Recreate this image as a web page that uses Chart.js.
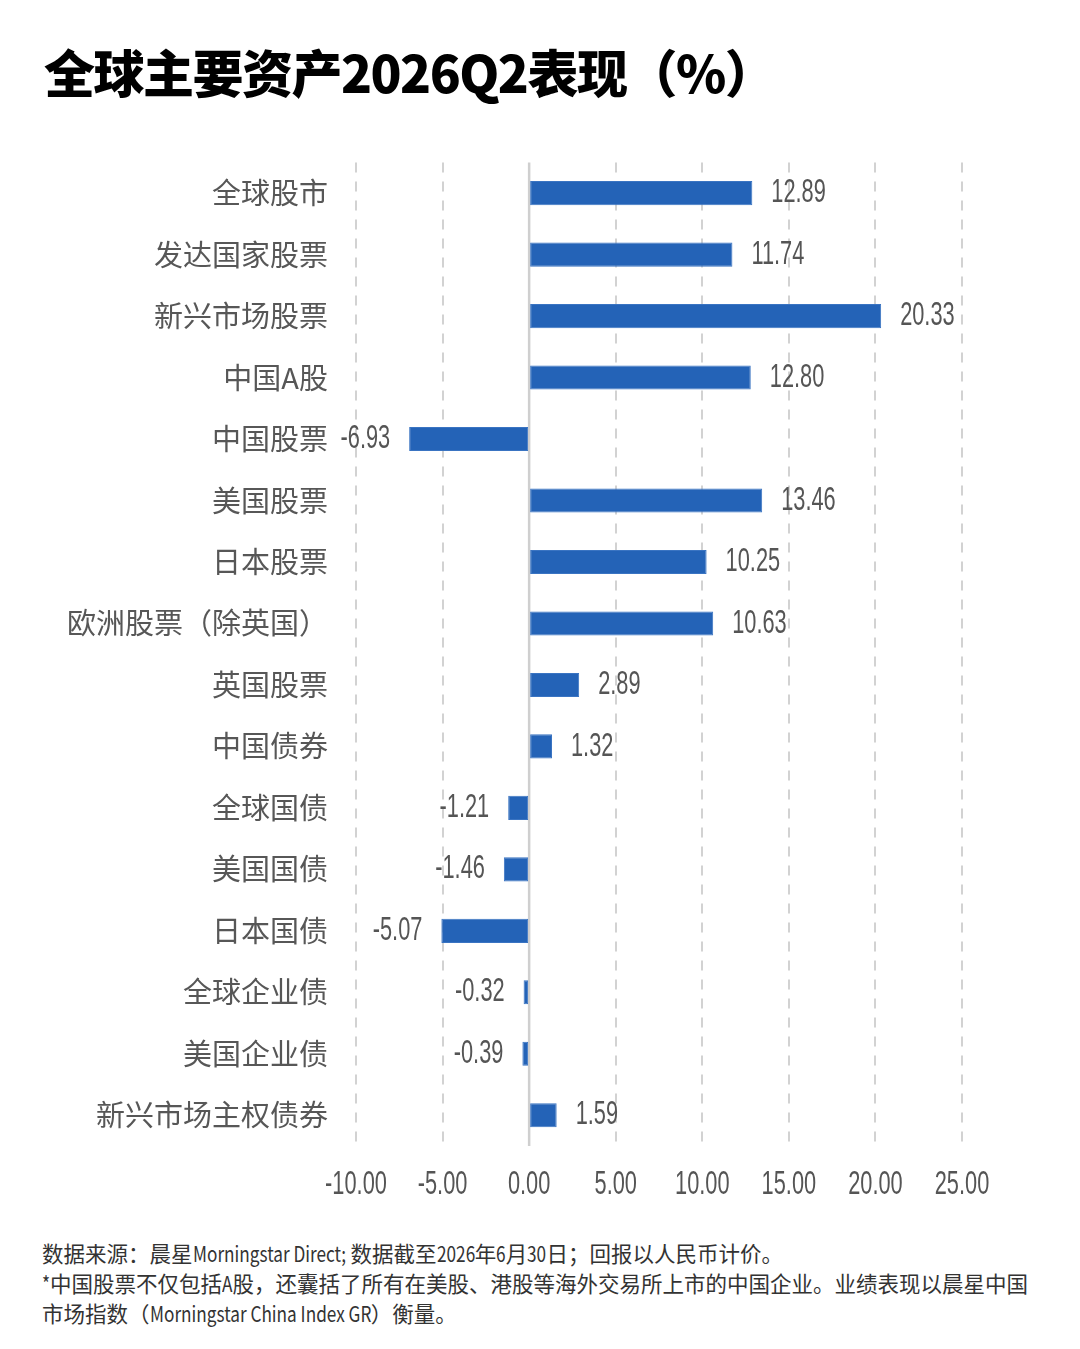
<!DOCTYPE html>
<html lang="zh-CN">
<head>
    <meta charset="UTF-8">
    <title>全球主要资产2026Q2表现（%）</title>
    <script src="https://cdn.jsdelivr.net/npm/chart.js"></script>
    <style>
        html, body {
            margin: 0;
            padding: 0;
            background: #ffffff;
        }
        body {
            width: 1080px;
            height: 1349px;
            position: relative;
            overflow: hidden;
            font-family: "Noto Sans CJK SC", "Noto Sans", sans-serif;
        }
        .title {
            position: absolute;
            left: 44px;
            top: 39px;
            font-size: 51px;
            line-height: 64px;
            font-weight: 900;
            color: #000;
            white-space: nowrap;
            letter-spacing: -1.5px;
        }
        .chart-box {
            position: absolute;
            left: 0;
            top: 117px;
            width: 1080px;
            height: 1103px;
        }
        .note {
            position: absolute;
            left: 42px;
            top: 1238px;
            font-size: 21.5px;
            color: #333;
            white-space: nowrap;
        }
        .note div {
            height: 30px;
            line-height: 30px;
        }
        .note .lat {
            display: inline-block;
            transform-origin: left center;
        }
    </style>
</head>
<body>
    <div class="title">全球主要资产2026Q2表现（%）</div>

    <div class="chart-box">
        <canvas id="chart"></canvas>
    </div>

    <div class="note">
        <div>数据来源：晨星<span class="lat">Morningstar Direct;</span> 数据截至<span class="lat">2026</span>年<span class="lat">6</span>月<span class="lat">30</span>日；回报以人民币计价。</div>
        <div><span class="lat">*</span>中国股票不仅包括<span class="lat">A</span>股，还囊括了所有在美股、港股等海外交易所上市的中国企业。业绩表现以晨星中国</div>
        <div>市场指数（<span class="lat">Morningstar China Index GR</span>）衡量。</div>
    </div>

    <script>
        var categories = [
            '全球股市', '发达国家股票', '新兴市场股票', '中国A股', '中国股票',
            '美国股票', '日本股票', '欧洲股票（除英国）', '英国股票', '中国债券',
            '全球国债', '美国国债', '日本国债', '全球企业债', '美国企业债',
            '新兴市场主权债券'
        ];
        var returns = [
            12.89, 11.74, 20.33, 12.80, -6.93,
            13.46, 10.25, 10.63, 2.89, 1.32,
            -1.21, -1.46, -5.07, -0.32, -0.39,
            1.59
        ];
        var xTicks = [-10, -5, 0, 5, 10, 15, 20, 25];

        // squeeze the latin bits of the footnote, like the narrow font in the original
        document.querySelectorAll('.note .lat').forEach(function (el) {
            var w = el.offsetWidth;
            el.style.transform = 'scaleX(0.8)';
            el.style.marginRight = (-0.2 * w) + 'px';
        });

        var numFont = '33px "Liberation Sans", Arial, sans-serif';
        var numSquash = 0.66;
        var numColor = '#555555';

        function drawNarrow(ctx, text, x, y, align) {
            ctx.save();
            ctx.translate(x, y);
            ctx.scale(numSquash, 1);
            ctx.font = numFont;
            ctx.fillStyle = numColor;
            ctx.textAlign = align;
            ctx.textBaseline = 'middle';
            ctx.fillText(text, 0, 0);
            ctx.restore();
        }

        // solid zero line, drawn before the bars
        var zeroLine = {
            id: 'zeroLine',
            beforeDatasetsDraw: function (chart) {
                var ctx = chart.ctx;
                var area = chart.chartArea;
                var x0 = chart.scales.x.getPixelForValue(0);
                ctx.save();
                ctx.strokeStyle = '#cfcfcf';
                ctx.lineWidth = 2.5;
                ctx.beginPath();
                ctx.moveTo(x0, area.top);
                ctx.lineTo(x0, area.bottom);
                ctx.stroke();
                ctx.restore();
            }
        };

        // narrow number labels: bar values and x tick labels
        var numberLabels = {
            id: 'numberLabels',
            afterDatasetsDraw: function (chart) {
                var ctx = chart.ctx;
                var meta = chart.getDatasetMeta(0);
                meta.data.forEach(function (bar, i) {
                    var v = returns[i];
                    if (v >= 0) {
                        drawNarrow(ctx, v.toFixed(2), bar.x + 19, bar.y, 'left');
                    } else {
                        drawNarrow(ctx, v.toFixed(2), bar.x - 19, bar.y, 'right');
                    }
                });

                var xs = chart.scales.x;
                var yTick = chart.chartArea.bottom + 39;
                xs.ticks.forEach(function (t, i) {
                    drawNarrow(ctx, t.value.toFixed(2), xs.getPixelForTick(i), yTick, 'center');
                });
            }
        };

        var ctx = document.getElementById('chart').getContext('2d');
        var chart = new Chart(ctx, {
            type: 'bar',
            data: {
                labels: categories,
                datasets: [{
                    data: returns,
                    backgroundColor: '#2463b7',
                    borderColor: '#3a74c2',
                    borderWidth: 1,
                    borderSkipped: false,
                    barPercentage: 0.8,
                    categoryPercentage: 0.49
                }]
            },
            options: {
                indexAxis: 'y',
                responsive: true,
                maintainAspectRatio: false,
                animation: false,
                layout: {
                    padding: { top: 21, right: 118, bottom: 0, left: 0 }
                },
                plugins: {
                    legend: { display: false },
                    tooltip: { enabled: false }
                },
                scales: {
                    x: {
                        min: xTicks[0],
                        max: xTicks[xTicks.length - 1],
                        afterBuildTicks: function (scale) {
                            scale.ticks = xTicks.map(function (v) { return { value: v }; });
                        },
                        afterFit: function (scale) {
                            scale.height = 74;
                        },
                        ticks: {
                            display: false
                        },
                        grid: {
                            drawTicks: false,
                            lineWidth: 2,
                            color: function (c) {
                                return c.tick && c.tick.value === 0 ? 'rgba(0,0,0,0)' : '#d2d2d2';
                            }
                        },
                        border: {
                            display: false,
                            dash: [10, 9]
                        }
                    },
                    y: {
                        afterFit: function (scale) {
                            scale.width = 356;
                        },
                        ticks: {
                            color: '#575757',
                            padding: 28,
                            font: {
                                family: '"Noto Sans CJK SC", sans-serif',
                                size: 29,
                                weight: 400
                            }
                        },
                        grid: { display: false, drawTicks: false },
                        border: { display: false }
                    }
                }
            },
            plugins: [zeroLine, numberLabels]
        });
    </script>
</body>
</html>
